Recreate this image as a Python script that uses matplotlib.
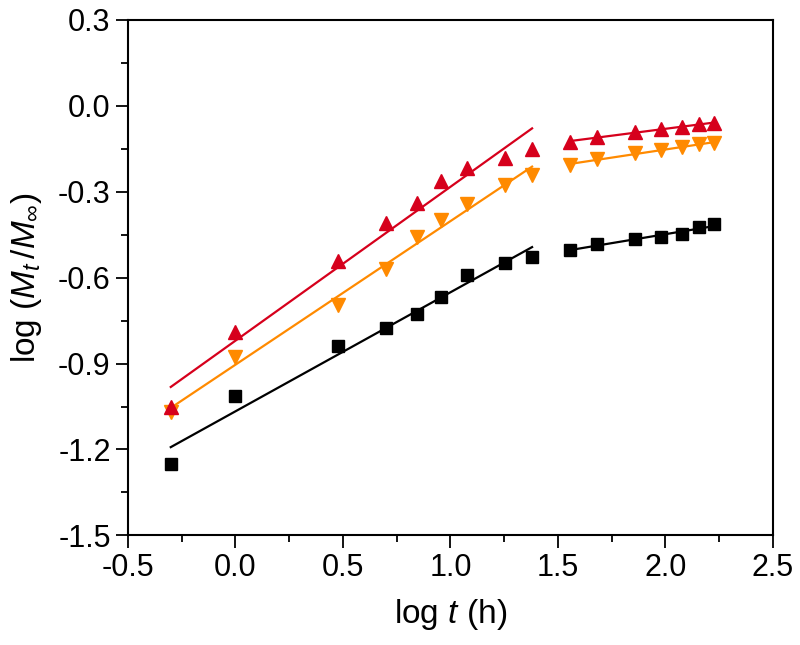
import numpy as np
import matplotlib
matplotlib.use('Agg')
import matplotlib.pyplot as plt
from matplotlib.ticker import MultipleLocator

plt.rcParams['font.family'] = ['Liberation Sans', 'DejaVu Sans']
plt.rcParams['mathtext.fontset'] = 'custom'
plt.rcParams['mathtext.rm'] = 'Liberation Sans'
plt.rcParams['mathtext.it'] = 'Liberation Sans:italic'
plt.rcParams['axes.unicode_minus'] = False

# log t (h) for the two regimes
x1 = [-0.301, 0.0, 0.477, 0.699, 0.845, 0.954, 1.079, 1.255, 1.380]
x2 = [1.556, 1.681, 1.857, 1.982, 2.079, 2.158, 2.225]

# log(Mt/Minf)
black1 = [-1.252, -1.014, -0.839, -0.777, -0.728, -0.668, -0.591, -0.549, -0.528]
black2 = [-0.504, -0.483, -0.465, -0.458, -0.448, -0.424, -0.413]
red1 = [-1.053, -0.790, -0.542, -0.410, -0.340, -0.263, -0.217, -0.182, -0.151]
red2 = [-0.126, -0.109, -0.091, -0.081, -0.074, -0.064, -0.060]
orange1 = [-1.070, -0.878, -0.696, -0.570, -0.458, -0.399, -0.343, -0.277, -0.242]
orange2 = [-0.207, -0.186, -0.165, -0.154, -0.144, -0.133, -0.130]

fig = plt.figure(figsize=(8, 6.45), dpi=100)
ax = fig.add_axes([0.16, 0.17, 0.806, 0.799])

series = [
    (black1, black2, 'black', 's', 8),
    (orange1, orange2, '#ff8a00', 'v', 10.5),
    (red1, red2, '#d6001c', '^', 10.5),
]

for y1, y2, c, m, ms in series:
    for xs, ys in [(x1, y1), (x2, y2)]:
        xs = np.array(xs)
        k, b = np.polyfit(xs, ys, 1)
        ax.plot(xs, k * xs + b, color=c, lw=1.6, zorder=2)
        ax.plot(xs, ys, ls='none', marker=m, color=c, ms=ms, zorder=3)

ax.set_xlim(-0.5, 2.5)
ax.set_ylim(-1.5, 0.3)
ax.xaxis.set_major_locator(MultipleLocator(0.5))
ax.xaxis.set_minor_locator(MultipleLocator(0.25))
ax.yaxis.set_major_locator(MultipleLocator(0.3))
ax.yaxis.set_minor_locator(MultipleLocator(0.15))
ax.tick_params(which='major', direction='out', length=9, width=1.3, labelsize=22)
ax.tick_params(which='minor', direction='out', length=5, width=1.3)
for s in ax.spines.values():
    s.set_linewidth(1.5)

ax.set_xlabel(r'log $t$ (h)', fontsize=24, labelpad=10)
ax.set_ylabel(r'log ($M_t\,/M_\infty$)', fontsize=24, labelpad=10)

fig.savefig('out.png', dpi=100)
